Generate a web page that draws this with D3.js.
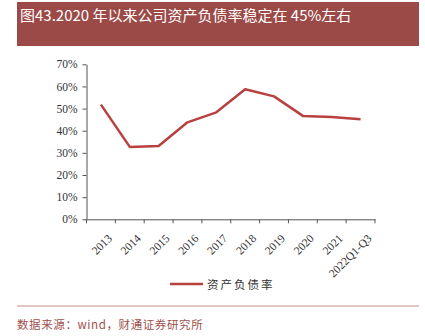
<!DOCTYPE html>
<html><head><meta charset="utf-8">
<script src="https://cdn.jsdelivr.net/npm/d3@7"></script>
<style>body{margin:0;background:#fff}svg{display:block}</style>
</head><body>
<svg id="c" width="425" height="336"></svg>
<script>
const categories = ["2013","2014","2015","2016","2017","2018","2019","2020","2021","2022Q1-Q3"];
const debtRatio = [51.8,32.7,33.1,43.8,48.3,58.7,55.5,46.7,46.2,45.2];
const yTicks = [0,10,20,30,40,50,60,70];
const titleText = "图43.2020 年以来公司资产负债率稳定在 45%左右";
const seriesName = "资产负债率";
const sourceText = "数据来源：wind，财通证券研究所";

const svg = d3.select("#c");
const serif = "'Liberation Serif','DejaVu Serif',serif";
const cjk = "'Noto Sans CJK SC','Liberation Serif',serif";

svg.append("rect").attr("x",17).attr("y",2).attr("width",402).attr("height",44).attr("fill","#9b4a47");
svg.append("text").attr("x",20).attr("y",20.5).attr("fill","#fff").attr("font-family",cjk)
  .attr("font-size",15).text(titleText);

const x = d3.scaleBand().domain(categories).range([86.5,375]);
const y = d3.scaleLinear().domain([0,70]).range([219.3,64.3]);

const gy = svg.append("g").attr("transform","translate(86.5,0)")
  .call(d3.axisLeft(y).tickValues(yTicks).tickFormat(d=>d+"%").tickSize(4).tickSizeOuter(0));
gy.select(".domain").attr("stroke","#555");
gy.selectAll(".tick line").attr("stroke","#555");
gy.selectAll("text").attr("font-family",serif).attr("font-size",11.5).attr("fill","#333").attr("dx",-2);

const gx = svg.append("g").attr("transform","translate(0,219.3)")
  .call(d3.axisBottom(x).tickSize(4).tickSizeOuter(0));
gx.select(".domain").attr("stroke","#555");
gx.selectAll(".tick line").attr("stroke","#555").attr("transform",`translate(${-x.bandwidth()/2},0)`);
gx.append("line").attr("x1",375).attr("x2",375).attr("y1",0).attr("y2",4).attr("stroke","#555");
gx.selectAll(".tick text").attr("font-family",serif).attr("font-size",11.5).attr("fill","#333")
  .attr("text-anchor","end").attr("dy","0.35em")
  .attr("transform","translate(4,12) rotate(-45)");

const line = d3.line().x((d,i)=>x(categories[i])+x.bandwidth()/2).y(d=>y(d));
svg.append("path").datum(debtRatio).attr("d",line).attr("fill","none")
  .attr("stroke","#b8403f").attr("stroke-width",2.5).attr("stroke-linejoin","round");

svg.append("line").attr("x1",170).attr("x2",203).attr("y1",284).attr("y2",284)
  .attr("stroke","#b8403f").attr("stroke-width",2.5);
svg.append("text").attr("x",207).attr("y",288.5).attr("font-family",cjk).attr("font-size",11.5)
  .attr("letter-spacing",2).attr("fill","#333").text(seriesName);

svg.append("line").attr("x1",17).attr("x2",419).attr("y1",306).attr("y2",306)
  .attr("stroke","#c98a88").attr("stroke-width",1);
svg.append("text").attr("x",17).attr("y",329).attr("font-family",cjk).attr("font-size",11.5)
  .attr("letter-spacing",0.6).attr("fill","#a0504c").text(sourceText);
</script>
</body></html>
